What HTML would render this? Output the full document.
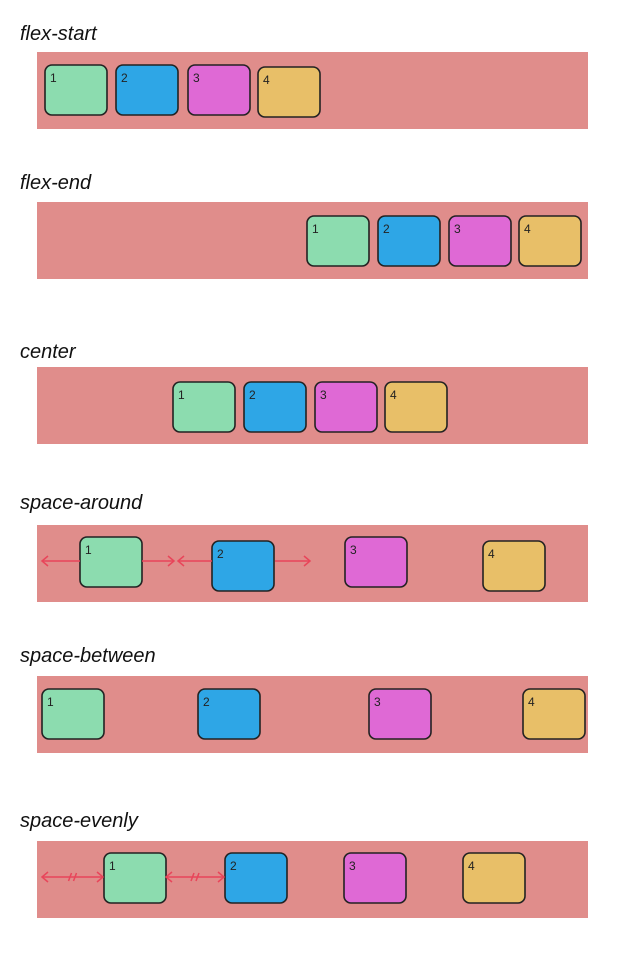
<!DOCTYPE html>
<html><head><meta charset="utf-8"><style>
html,body{margin:0;padding:0;background:#fff;width:623px;height:961px;overflow:hidden}
svg{display:block}
text{font-family:"Liberation Sans",sans-serif}
.lbl{font-size:20px;fill:#111;font-style:italic}
.num{font-size:12px;fill:#222}
.box{stroke:#222;stroke-width:1.6}
.arr{stroke:#e8455a;stroke-width:1.5;fill:none}
</style></head><body>
<svg width="623" height="961">
<g id="g"></g>
</svg>
<script>
const labels=["flex-start","flex-end","center","space-around","space-between","space-evenly"];
const labelY=[40,189,358,509,662,827];
const contY=[52,202,367,525,676,841];
const boxX=[[45,116,188,258],[307,378,449,519],[173,244,315,385],[80,212,345,483],[42,198,369,523],[104,225,344,463]];
const boxDY=[[13,13,13,15],[14,14,14,14],[15,15,15,15],[12,16,12,16],[13,13,13,13],[12,12,12,12]];
const colors=["#8cdcaf","#2ea6e6","#df69d5","#e8bf68"];
const arrows=[[],[],[],[[80,42,"l"],[142,174,"r"],[212,178,"l"],[275,310,"r"]],[],[[42,103,"b"],[166,224,"b"]]];
const NS="http://www.w3.org/2000/svg";
const g=document.getElementById('g');
function mk(t,a){const e=document.createElementNS(NS,t);for(const k in a)e.setAttribute(k,a[k]);g.appendChild(e);return e;}
labels.forEach((L,i)=>{
  const t=mk('text',{x:20,y:labelY[i],class:'lbl'});t.textContent=L;
  
  
  const c=mk('rect',{x:37,y:contY[i],width:551,height:77,fill:'#e08d8b'});
  
  
  boxX[i].forEach((x,j)=>{
    const y=contY[i]+boxDY[i][j];
    const r=mk('rect',{x:x,y:y,width:62,height:50,rx:7,fill:colors[j],class:'box'});
    
    
    const n=mk('text',{x:x+5,y:y+17,class:'num'});n.textContent=String(j+1);
    
    
  });
  arrows[i].forEach(a=>{
    const y=contY[i]+36;
    const p=mk('path',{d:'M'+a[0]+' '+y+' L'+a[1]+' '+y,class:'arr'});
    
    
    const ends=a[2]==='b'?[[a[0],1],[a[1],-1]]:[[a[1],a[1]>a[0]?-1:1]];
    ends.forEach(([ex,d])=>{
      const h=mk('path',{d:'M'+(ex+6*d)+' '+(y-5)+' L'+ex+' '+y+' L'+(ex+6*d)+' '+(y+5),class:'arr'});
      
      
    });
    if(a[2]==='b'){const m=(a[0]+a[1])/2;
      const s=mk('path',{d:'M'+(m-4)+' '+(y+4)+' L'+(m-1)+' '+(y-4)+' M'+(m+1)+' '+(y+4)+' L'+(m+4)+' '+(y-4),class:'arr'});
      
      }
  });
});
</script>
</body></html>
